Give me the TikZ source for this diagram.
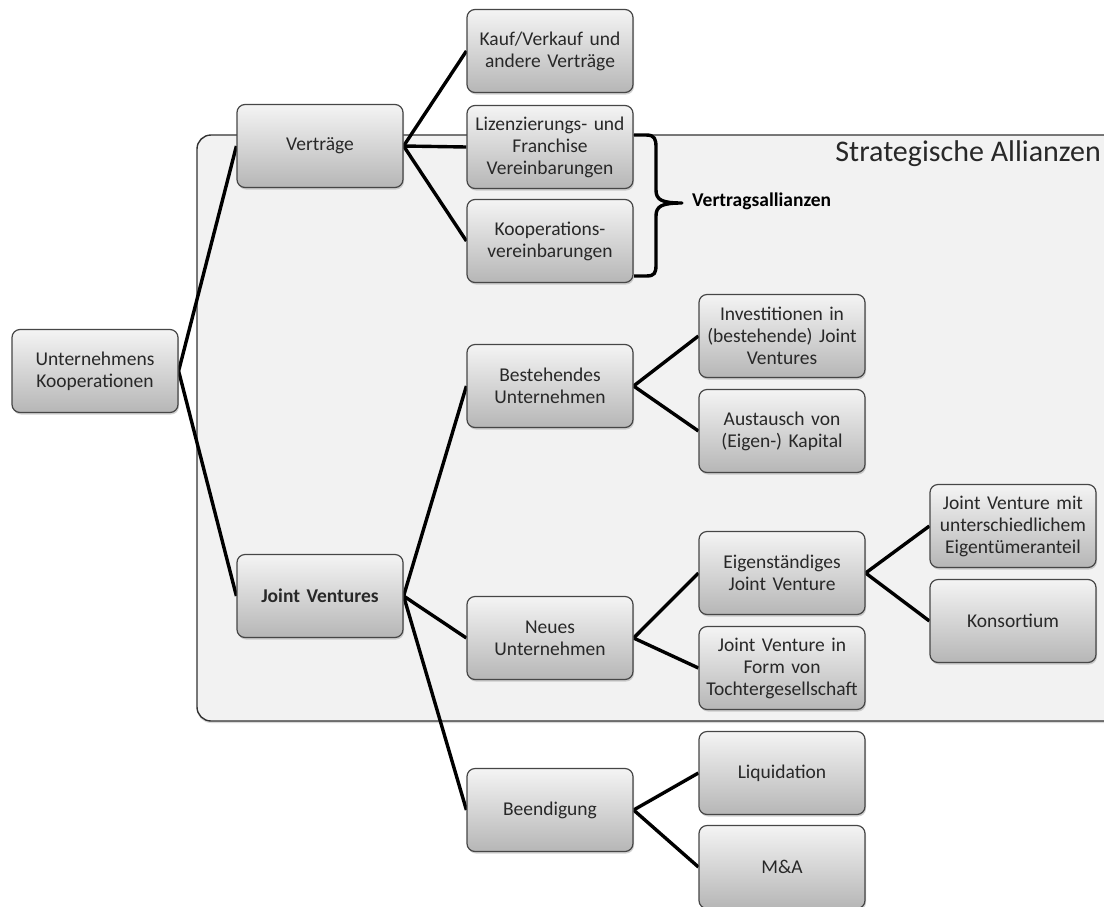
\documentclass[tikz,border=0pt]{standalone}
\usepackage{fontspec}
\setmainfont{Carlito}
\usetikzlibrary{shadows}
\definecolor{boxtop}{RGB}{244,244,244}
\definecolor{boxbot}{RGB}{182,182,182}
\definecolor{boxline}{RGB}{70,70,70}
\definecolor{panelfill}{RGB}{242,242,242}
\definecolor{panelline}{RGB}{50,50,50}
\definecolor{inktext}{RGB}{40,40,40}
\pgfdeclarelayer{back}
\pgfdeclarelayer{wires}
\pgfsetlayers{back,wires,main}
\tikzset{
  item/.style={draw=boxline, line width=1.2pt, rounded corners=8pt,
    top color=boxtop, bottom color=boxbot,
    minimum width=166pt, minimum height=83pt, text width=164pt,
    align=center, inner sep=0pt, text=inktext,
    font=\fontsize{19.5}{22}\selectfont,
    drop shadow={shadow xshift=1pt, shadow yshift=-2pt, opacity=0.35}},
  wire/.style={line width=3.4pt, black},
  panel/.style={draw=panelline, line width=1.4pt, fill=panelfill, rounded corners=14pt,
    drop shadow={shadow xshift=0pt, shadow yshift=-2pt, opacity=0.3}},
}
\begin{document}
\begin{tikzpicture}[x=1pt, y=-1pt]
\useasboundingbox (0,0) rectangle (1104,906);
\clip (0,0) rectangle (1104,906);

% tree nodes
\node[item] (uk) at (95,371) {Unternehmens\\Kooperationen};
\node[item] (vt) at (320,146) {Verträge};
\node[item] (jv) at (320,596) {\bfseries Joint Ventures};
\node[item] (kv) at (550,51) {Kauf/Verkauf und\\andere Verträge};
\node[item] (li) at (550,147) {Lizenzierungs- und\\Franchise\\Vereinbarungen};
\node[item] (ko) at (550,241) {Kooperations-\\vereinbarungen};
\node[item] (be) at (550,386) {Bestehendes\\Unternehmen};
\node[item] (ne) at (550,638) {Neues\\Unternehmen};
\node[item] (bd) at (550,810) {Beendigung};
\node[item] (iv) at (782,336) {Investitionen in\\(bestehende) Joint\\Ventures};
\node[item] (au) at (782,431) {Austausch von\\(Eigen-) Kapital};
\node[item] (ei) at (782,573) {Eigenständiges\\Joint Venture};
\node[item] (tg) at (782,668) {Joint Venture in\\Form von\\Tochtergesellschaft};
\node[item] (lq) at (782,773) {Liquidation};
\node[item] (ma) at (782,867) {M\&A};
\node[item] (mu) at (1013,526) {Joint Venture mit\\unterschiedlichem\\Eigentümeranteil};
\node[item] (kn) at (1013,621) {Konsortium};

% white page and panel for strategic alliances
\begin{pgfonlayer}{back}
  \fill[white] (0,0) rectangle (1104,906);
  \path[panel] (197,135) rectangle (1140,721);
\end{pgfonlayer}
\node[anchor=base east, inner sep=0pt, text=inktext, font=\fontsize{30}{32}\selectfont]
  (sa) at (1101,161) {Strategische Allianzen};

% connectors
\begin{pgfonlayer}{wires}
  \draw[wire] (uk.east) -- (vt.west);
  \draw[wire] (uk.east) -- (jv.west);
  \draw[wire] (vt.east) -- (kv.west);
  \draw[wire] (vt.east) -- (li.west);
  \draw[wire] (vt.east) -- (ko.west);
  \draw[wire] (jv.east) -- (be.west);
  \draw[wire] (jv.east) -- (ne.west);
  \draw[wire] (jv.east) -- (bd.west);
  \draw[wire] (be.east) -- (iv.west);
  \draw[wire] (be.east) -- (au.west);
  \draw[wire] (ne.east) -- (ei.west);
  \draw[wire] (ne.east) -- (tg.west);
  \draw[wire] (bd.east) -- (lq.west);
  \draw[wire] (bd.east) -- (ma.west);
  \draw[wire] (ei.east) -- (mu.west);
  \draw[wire] (ei.east) -- (kn.west);
\end{pgfonlayer}

% brace grouping the contract alliances
\coordinate (bt) at (634,135);
\coordinate (bb) at (634,276);
\coordinate (bm) at (682,203);
\draw[wire, line join=round]
  (bt) -- (646,135) .. controls (655,135) and (656,139) .. (656,148)
  -- (656,190) .. controls (656,200) and (662,203) .. (bm)
  .. controls (662,203) and (656,206) .. (656,216)
  -- (656,264) .. controls (656,273) and (655,276) .. (646,276) -- (bb);
\node[anchor=west, inner sep=0pt, text=black, font=\fontsize{19.5}{22}\selectfont\bfseries]
  (va) at (692,201) {Vertragsallianzen};
\end{tikzpicture}
\end{document}
